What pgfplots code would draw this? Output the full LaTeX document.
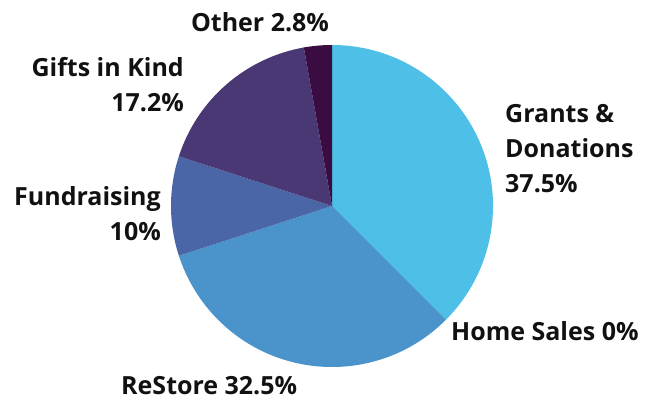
\documentclass[border=0pt]{standalone}
\usepackage{pgfplots}
\usepackage{pgfplotstable}
\pgfplotsset{compat=1.18}
\usepackage{fontspec}
\setmainfont{Open Sans}
\definecolor{col0}{HTML}{4EBFE6}
\definecolor{col1}{HTML}{4A93CB}
\definecolor{col2}{HTML}{4A93CB}
\definecolor{col3}{HTML}{4A66A6}
\definecolor{col4}{HTML}{4A3875}
\definecolor{col5}{HTML}{3A0C42}
\definecolor{txt}{HTML}{111111}
\pgfplotstableread{
idx value
0 37.5
1 0
2 32.5
3 10
4 17.2
5 2.8
}\piedata
\begin{document}
\begin{tikzpicture}
% cumulative angles (clockwise from top)
\def\cum{0}
\foreach \i in {0,...,5}{
  \pgfplotstablegetelem{\i}{value}\of\piedata
  \pgfmathsetmacro\sa{90-3.6*\cum}
  \pgfmathsetmacro\ea{90-3.6*(\cum+\pgfplotsretval)}
  \expandafter\xdef\csname sA\i\endcsname{\sa}
  \expandafter\xdef\csname eA\i\endcsname{\ea}
  \pgfmathsetmacro\nc{\cum+\pgfplotsretval}
  \xdef\cum{\nc}
}
\begin{axis}[
  hide axis, scale only axis,
  x=1pt, y=1pt,
  xmin=0, xmax=658, ymin=0, ymax=402,
  clip=false,
]
\path (axis cs:0,0) rectangle (axis cs:658,402);
\pgfplotsinvokeforeach{0,...,5}{
  \fill[color=col#1] (axis cs:332,196) -- ++(\csname sA#1\endcsname:161pt)
     arc[start angle=\csname sA#1\endcsname, end angle=\csname eA#1\endcsname, radius=161pt] -- cycle;
}
\begin{scope}[every node/.style={font=\bfseries\fontsize{25}{35}\selectfont, text=txt, inner sep=0pt}]
\node[anchor=center] at (axis cs:260,380) {Other 2.8\%};
\node[anchor=east, align=right] at (axis cs:184,317) {Gifts in Kind\\17.2\%};
\node[anchor=east, align=right] at (axis cs:161,188) {Fundraising\\10\%};
\node[anchor=west, align=left] at (axis cs:505,253) {Grants \&\\Donations\\37.5\%};
\node[anchor=west] at (axis cs:451,71) {Home Sales 0\%};
\node[anchor=west] at (axis cs:121,16) {ReStore 32.5\%};
\end{scope}
\end{axis}
\end{tikzpicture}
\end{document}
